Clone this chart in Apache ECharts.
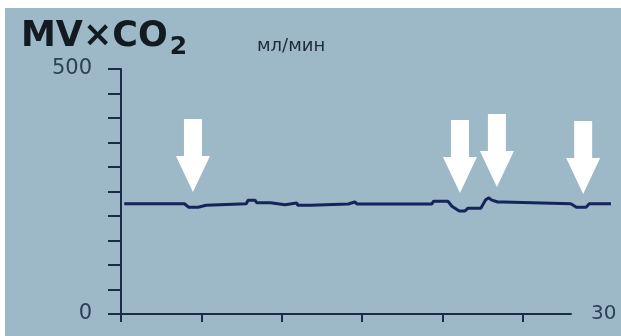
<!DOCTYPE html>
<html>
<head>
<meta charset="utf-8">
<script src="https://cdn.jsdelivr.net/npm/echarts@6/dist/echarts.min.js"></script>
<style>
  html, body { margin: 0; padding: 0; background: #fff; }
  #wrap { position: relative; width: 621px; height: 336px; overflow: hidden; }
  #screen { position: absolute; left: 5px; top: 8px; right: 0; bottom: 0; background: #9db8c6; }
  #chart { position: absolute; left: 0; top: 0; width: 621px; height: 336px; }
</style>
</head>
<body>
<div id="wrap">
  <div id="screen"></div>
  <div id="chart"></div>
</div>
<script>
// trend, minutes vs ml/min
var timeMin = [0.2, 1.8, 1.87, 1.95, 2.75, 2.8, 2.88, 3.6, 3.67, 3.75, 3.95, 4.2, 4.8, 4.9, 5.3, 5.35, 7.8, 7.9, 8.35, 8.45,
  9.3, 9.35, 10.2, 10.25, 10.95, 11.0, 11.8, 11.9, 14.15, 14.25, 14.55, 14.7, 19.35, 19.45, 20.35, 20.6,
  21.05, 21.4, 21.6, 22.4, 22.7, 22.9, 23.05, 23.45, 23.8, 23.9, 28.0, 28.35, 28.95, 29.15, 30.5];
var mvco2 = [225, 225, 228, 225, 225, 228, 225, 225, 228, 225, 225, 218, 218, 222, 222, 225, 225, 232, 232, 227,
  227, 223, 223, 226.5, 226.5, 222, 222, 224.5, 224.5, 228.5, 228.5, 224.5, 224.5, 230, 230, 220,
  210, 210, 216, 216, 233, 237, 233, 228.5, 228.5, 225, 225, 218, 218, 225, 225];

var xTicks = [0, 5, 10, 15, 20, 25];
var yLabels = [0, 500];

// arrows: time and value of the tip
var arrowTime = [4.48, 21.1, 23.4, 28.77];
var arrowTip = [249, 247, 259, 245];

var points = timeMin.map(function (t, i) { return [t, mvco2[i]]; });
var arrows = arrowTime.map(function (t, i) { return { coord: [t, arrowTip[i]] }; });

var axisColor = '#1c2c48';
var textColor = '#2c4058';

var myChart = echarts.init(document.getElementById('chart'));
myChart.setOption({
  animation: false,
  backgroundColor: 'transparent',
  title: [
    {
      text: '{a|MV×CO}{b|2}',
      left: 16, top: 14,
      textStyle: {
        rich: {
          a: { fontFamily: 'DejaVu Sans', fontWeight: 'bold', fontSize: 35, color: '#121a22' },
          b: { fontFamily: 'DejaVu Sans', fontWeight: 'bold', fontSize: 25, color: '#121a22', verticalAlign: 'bottom', padding: [0, 0, -6, 2] }
        }
      }
    },
    {
      text: 'мл/мин',
      left: 252, top: 32,
      textStyle: { fontFamily: 'DejaVu Sans', fontWeight: 'normal', fontSize: 18, color: '#1e2a3a' }
    }
  ],
  // grid 0 draws the trend (runs past the axis end), grid 1 draws the axes
  grid: [
    { left: 121, right: 2, top: 69, bottom: 22 },
    { left: 121, right: 50, top: 69, bottom: 22 }
  ],
  xAxis: [
    { gridIndex: 0, type: 'value', min: 0, max: 31, show: false },
    {
      gridIndex: 1,
      type: 'value',
      min: 0, max: 28,
      interval: 5,
      name: '30',
      nameLocation: 'end',
      nameGap: 20,
      nameTextStyle: { fontFamily: 'DejaVu Sans', fontSize: 20, color: textColor, verticalAlign: 'middle', padding: [0, 0, 5, 0] },
      axisLine: { lineStyle: { color: axisColor, width: 2 } },
      axisTick: { show: true, length: 8, customValues: xTicks, lineStyle: { color: axisColor, width: 2 } },
      axisLabel: { show: false },
      splitLine: { show: false }
    }
  ],
  yAxis: [
    { gridIndex: 0, type: 'value', min: 0, max: 500, show: false },
    {
      gridIndex: 1,
      type: 'value',
      min: 0, max: 500,
      interval: 50,
      axisLine: { show: true, lineStyle: { color: axisColor, width: 2 } },
      axisTick: { show: true, length: 13, lineStyle: { color: axisColor, width: 2 } },
      axisLabel: {
        margin: 29,
        fontFamily: 'DejaVu Sans', fontSize: 21, color: textColor,
        formatter: function (v) { return yLabels.indexOf(v) >= 0 ? String(v) : ''; }
      },
      splitLine: { show: false }
    }
  ],
  series: [{
    type: 'line',
    xAxisIndex: 0,
    yAxisIndex: 0,
    data: points,
    showSymbol: false,
    lineStyle: { color: '#15245a', width: 3 },
    markPoint: {
      symbol: 'path://M8,0 L26,0 L26,37 L34,37 L17,73 L0,37 L8,37 Z',
      symbolSize: [34, 73],
      symbolOffset: [0, '-50%'],
      itemStyle: { color: '#ffffff' },
      label: { show: false },
      data: arrows
    }
  }]
});
</script>
</body>
</html>
